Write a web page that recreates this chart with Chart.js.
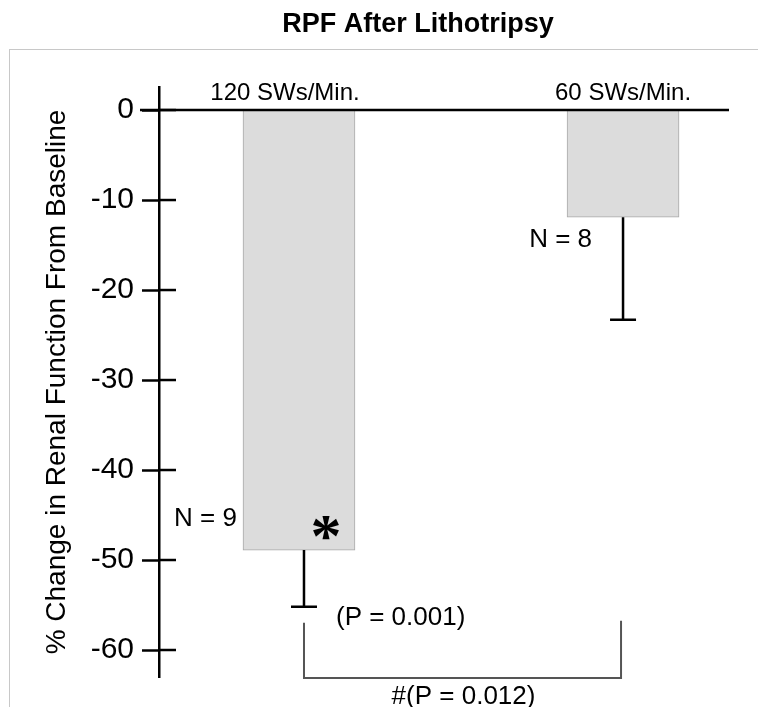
<!DOCTYPE html>
<html>
<head>
<meta charset="utf-8">
<title>RPF After Lithotripsy</title>
<script src="https://cdn.jsdelivr.net/npm/chart.js@4.4.1/dist/chart.umd.min.js"></script>
<style>
  html, body { margin: 0; padding: 0; background: #fff; }
</style>
</head>
<body>
<canvas id="rpfChart" width="758" height="707"></canvas>
<script>
// values
var categories = ['120 SWs/Min.', '60 SWs/Min.'];
var meanChange = [-48.9, -11.9];
var errorLow = [-55.2, -23.3];
var sampleN = [9, 8];
var yTicks = [0, -10, -20, -30, -40, -50, -60];
var pSingle = '(P = 0.001)';
var pBetween = '#(P = 0.012)';

var FONT = '"Liberation Sans", Helvetica, Arial, sans-serif';

// small placement tweaks (pixels), relative to each bar
var nPlace = [{dx: -62, dy: -24}, {dx: -31, dy: 30}];
var labelDx = [-14, 0];
var errDx = [5, 0];

var extras = {
  id: 'extras',
  beforeDraw: function(chart) {
    var ctx = chart.ctx;
    ctx.save();
    ctx.fillStyle = '#fff';
    ctx.fillRect(0, 0, chart.width, chart.height);
    ctx.strokeStyle = '#c8c8c8';
    ctx.lineWidth = 1;
    ctx.strokeRect(9.5, 49.5, chart.width, chart.height);
    ctx.restore();
  },
  afterDatasetsDraw: function(chart) {
    var ctx = chart.ctx;
    var xs = chart.scales.x, ys = chart.scales.y, area = chart.chartArea;
    var bars = chart.getDatasetMeta(0).data;
    var y0 = ys.getPixelForValue(0);
    ctx.save();
    ctx.fillStyle = '#000';
    ctx.strokeStyle = '#000';

    // title
    ctx.font = 'bold 27px ' + FONT;
    ctx.textAlign = 'center';
    ctx.textBaseline = 'alphabetic';
    ctx.fillText('RPF After Lithotripsy', 418, 32);

    // zero line
    ctx.lineWidth = 2.5;
    ctx.beginPath();
    ctx.moveTo(area.left - 19, y0);
    ctx.lineTo(area.right, y0);
    ctx.stroke();

    // inner half of the tick marks
    yTicks.forEach(function(v) {
      var py = ys.getPixelForValue(v);
      ctx.beginPath();
      ctx.moveTo(area.left, py);
      ctx.lineTo(area.left + 17, py);
      ctx.stroke();
    });

    // category labels above the zero line
    ctx.font = '24px ' + FONT;
    categories.forEach(function(c, i) {
      ctx.fillText(c, xs.getPixelForValue(i + 1) + labelDx[i], y0 - 10);
    });

    // error bars (lower side)
    var errX = [], errY = [];
    errorLow.forEach(function(v, i) {
      var x = xs.getPixelForValue(i + 1) + errDx[i];
      var top = ys.getPixelForValue(meanChange[i]);
      var bot = ys.getPixelForValue(v);
      errX.push(x); errY.push(bot);
      ctx.beginPath();
      ctx.moveTo(x, top);
      ctx.lineTo(x, bot);
      ctx.moveTo(x - 13, bot);
      ctx.lineTo(x + 13, bot);
      ctx.stroke();
    });

    // N labels
    ctx.font = '26px ' + FONT;
    ctx.textAlign = 'right';
    sampleN.forEach(function(n, i) {
      var b = bars[i];
      ctx.fillText('N = ' + n, b.x + nPlace[i].dx, b.y + nPlace[i].dy);
    });

    // significance star
    ctx.textAlign = 'center';
    ctx.font = 'bold 62px "Liberation Serif", "Times New Roman", serif';
    ctx.fillText('*', bars[0].x + 27, bars[0].y + 6);

    // p value for the 120 group
    ctx.font = '26px ' + FONT;
    ctx.textAlign = 'left';
    ctx.fillText(pSingle, errX[0] + 32, errY[0] + 18);

    // bracket between groups
    var yb = ys.getPixelForValue(-63) + 1;
    ctx.strokeStyle = '#555';
    ctx.lineWidth = 2;
    ctx.beginPath();
    ctx.moveTo(errX[0], errY[0] + 16);
    ctx.lineTo(errX[0], yb);
    ctx.lineTo(errX[1] - 2, yb);
    ctx.lineTo(errX[1] - 2, errY[0] + 14);
    ctx.stroke();
    ctx.textAlign = 'center';
    ctx.fillText(pBetween, (errX[0] + errX[1]) / 2, 704);

    ctx.restore();
  }
};

var ctx = document.getElementById('rpfChart').getContext('2d');
var chart = new Chart(ctx, {
  type: 'bar',
  data: {
    datasets: [{
      data: meanChange.map(function(v, i) { return {x: i + 1, y: v}; }),
      backgroundColor: '#dcdcdc',
      borderColor: '#a9a9a9',
      borderWidth: 1,
      barThickness: 112
    }]
  },
  options: {
    responsive: false,
    animation: false,
    layout: { padding: { left: 0, right: 29, top: 87, bottom: 30 } },
    plugins: {
      legend: { display: false },
      title: { display: false },
      tooltip: { enabled: false }
    },
    scales: {
      x: {
        type: 'linear',
        display: false,
        offset: false,
        min: 0.568,
        max: 2.327
      },
      y: {
        min: -63,
        max: 2.56,
        afterBuildTicks: function(scale) {
          scale.ticks = yTicks.map(function(v) { return {value: v}; });
        },
        afterFit: function(scale) { scale.width = 159; },
        grid: {
          drawOnChartArea: false,
          drawTicks: true,
          tickLength: 17,
          tickColor: '#000',
          tickWidth: 2.5
        },
        border: { display: true, color: '#000', width: 2.5 },
        ticks: {
          color: '#000',
          padding: 8,
          font: { family: FONT, size: 30 }
        },
        title: {
          display: true,
          text: '% Change in Renal Function From Baseline',
          color: '#000',
          font: { family: FONT, size: 28 },
          padding: { top: 40, bottom: 0 }
        }
      }
    }
  },
  plugins: [extras]
});
</script>
</body>
</html>
